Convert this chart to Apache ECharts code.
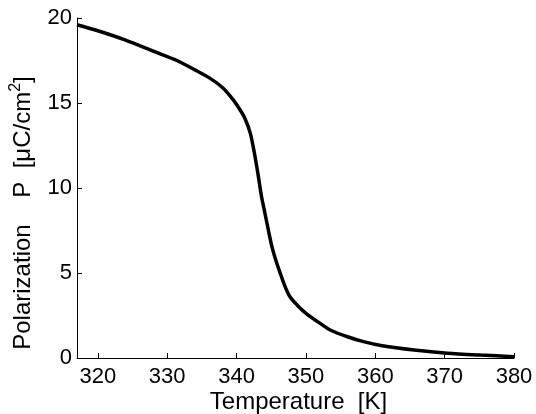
<!DOCTYPE html>
<html>
<head>
<meta charset="utf-8">
<script src="https://cdn.jsdelivr.net/npm/echarts@6/dist/echarts.min.js"></script>
<style>
  html, body { margin: 0; padding: 0; background: #fff; }
  #chart { width: 536px; height: 414px; }
</style>
</head>
<body>
<div id="chart"></div>
<script>
// temperature (K) and polarization (uC/cm2)
const temperature = [317, 320, 324, 328, 331.4, 334, 336.2, 338, 339.5, 340.5, 341.2, 342, 342.6, 343.1, 343.6,
  344.1, 344.6, 345.1, 345.7, 346.3, 347, 347.7, 349, 350.1, 352, 353.5, 356, 358.3, 361, 365.6, 370.4, 375.2, 380];
const polarization = [19.6, 19.25, 18.7, 18.05, 17.5, 16.95, 16.45, 15.9, 15.2, 14.6, 14.1, 13.2, 12, 10.8, 9.5,
  8.5, 7.5, 6.55, 5.7, 4.98, 4.2, 3.6, 3.0, 2.6, 2.05, 1.65, 1.25, 0.96, 0.72, 0.47, 0.28, 0.17, 0.08];
const xTicks = [320, 330, 340, 350, 360, 370, 380];

const font = '"Liberation Sans", Arial, sans-serif';

const chart = echarts.init(document.getElementById("chart"));
const option = {
  animation: false,
  backgroundColor: "#fff",
  grid: {
    left: 77,
    right: 22,
    top: 18,
    bottom: 56,
    outerBoundsMode: "none",
  },
  xAxis: {
    type: "value",
    min: 317,
    max: 380,
    name: "Temperature  [K]",
    nameLocation: "middle",
    nameGap: 32,
    nameMoveOverlap: false,
    nameTextStyle: { fontFamily: font, fontSize: 24, color: "#000", padding: [0, 0, 0, 6] },
    axisLine: { lineStyle: { color: "#000", width: 1 } },
    axisTick: { inside: true, length: 5, customValues: xTicks, lineStyle: { color: "#000" } },
    axisLabel: { customValues: xTicks, margin: 8, fontFamily: font, fontSize: 22, color: "#000" },
    splitLine: { show: false },
  },
  yAxis: {
    type: "value",
    min: 0,
    max: 20,
    interval: 5,
    name: "Polarization    P  [μC/cm{sup|2}]",
    nameLocation: "middle",
    nameGap: 39,
    nameMoveOverlap: false,
    nameTextStyle: {
      fontFamily: font,
      fontSize: 24,
      color: "#000",
      padding: [0, 50, 0, 0],
      rich: {
        sup: { fontFamily: font, fontSize: 16, color: "#000", padding: [0, 0, 14, 0] },
      },
    },
    axisLine: { show: true, lineStyle: { color: "#000", width: 1 } },
    axisTick: { show: true, inside: true, length: 5, lineStyle: { color: "#000" } },
    axisLabel: { margin: 5, fontFamily: font, fontSize: 22, color: "#000" },
    splitLine: { show: false },
  },
  series: [
    {
      type: "line",
      data: temperature.map((t, i) => [t, polarization[i]]),
      showSymbol: false,
      smooth: 0.25,
      lineStyle: { color: "#000", width: 3.5 },
    },
  ],
};
chart.setOption(option);

window.addEventListener("resize", () => {
  chart.resize();
});
</script>
</body>
</html>
